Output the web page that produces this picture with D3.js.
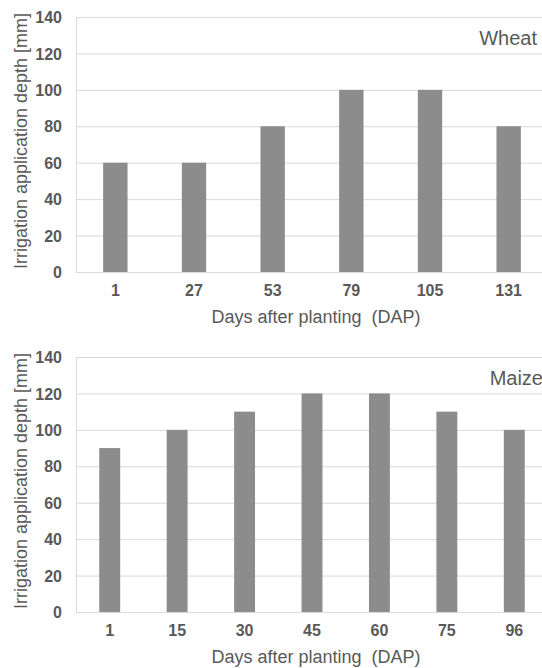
<!DOCTYPE html>
<html>
<head>
<meta charset="utf-8">
<script src="https://cdn.jsdelivr.net/npm/d3@7"></script>
<style>
  html, body { margin: 0; padding: 0; background: #fff; }
  svg { display: block; }
  text { font-family: "Liberation Sans", Arial, sans-serif; fill: #595959; }
</style>
</head>
<body>
<svg id="chart" width="542" height="668"></svg>
<script>
const wheatDays = ["1", "27", "53", "79", "105", "131"];
const wheatDepth = [60, 60, 80, 100, 100, 80];
const maizeDays = ["1", "15", "30", "45", "60", "75", "96"];
const maizeDepth = [90, 100, 110, 120, 120, 110, 100];
const yTicks = [0, 20, 40, 60, 80, 100, 120, 140];
const yTitle = "Irrigation application depth [mm]";
const xTitle = "Days after planting\u00a0 (DAP)";

const svg = d3.select("#chart");

function drawPanel(top, days, depth, label, labelRight) {
  const left = 76, right = 548, plotTop = top, plotBottom = top + 255;
  const g = svg.append("g");
  const x = d3.scaleBand().domain(days).range([left, right]).paddingInner(0.69).paddingOuter(0.345);
  const y = d3.scaleLinear().domain([0, 140]).range([plotBottom, plotTop]);

  // gridlines
  g.selectAll("line.grid").data(yTicks).join("line")
    .attr("x1", left).attr("x2", right)
    .attr("y1", d => y(d) + 0.5).attr("y2", d => y(d) + 0.5)
    .attr("stroke", "#d9d9d9").attr("stroke-width", 1);
  g.append("line").attr("x1", left + 0.5).attr("x2", left + 0.5)
    .attr("y1", y(140)).attr("y2", y(0) + 1)
    .attr("stroke", "#d9d9d9");

  // bars
  g.selectAll("rect.bar").data(days).join("rect")
    .attr("x", d => x(d)).attr("width", x.bandwidth())
    .attr("y", (d, i) => y(depth[i])).attr("height", (d, i) => y(0) - y(depth[i]))
    .attr("fill", "#8c8c8c");

  // y axis tick labels
  const yAxis = d3.axisLeft(y).tickValues(yTicks).tickSize(0).tickPadding(0);
  const ya = g.append("g").attr("transform", `translate(62,0.5)`).call(yAxis);
  ya.select(".domain").remove();
  ya.selectAll("text").attr("font-size", 16).attr("font-weight", "bold")
    .attr("font-family", "Liberation Sans, Arial, sans-serif").style("fill", "#595959");

  // x axis tick labels
  const xAxis = d3.axisBottom(x).tickSize(0).tickPadding(0);
  const xa = g.append("g").attr("transform", `translate(0,${plotBottom + 13})`).call(xAxis);
  xa.select(".domain").remove();
  xa.selectAll("text").attr("font-size", 16).attr("font-weight", "bold")
    .attr("font-family", "Liberation Sans, Arial, sans-serif").style("fill", "#595959");

  // titles
  g.append("text").attr("x", 316).attr("y", plotBottom + 51)
    .attr("text-anchor", "middle").attr("font-size", 18).text(xTitle);
  g.append("text").attr("transform", `translate(27,${top + 124}) rotate(-90)`)
    .attr("text-anchor", "middle").attr("font-size", 18).text(yTitle);

  // panel label
  g.append("text").attr("x", labelRight).attr("y", top + 28)
    .attr("text-anchor", "end").attr("font-size", 20).text(label);
}

drawPanel(17, wheatDays, wheatDepth, "Wheat", 537);
drawPanel(357, maizeDays, maizeDepth, "Maize", 543);
</script>
</body>
</html>
